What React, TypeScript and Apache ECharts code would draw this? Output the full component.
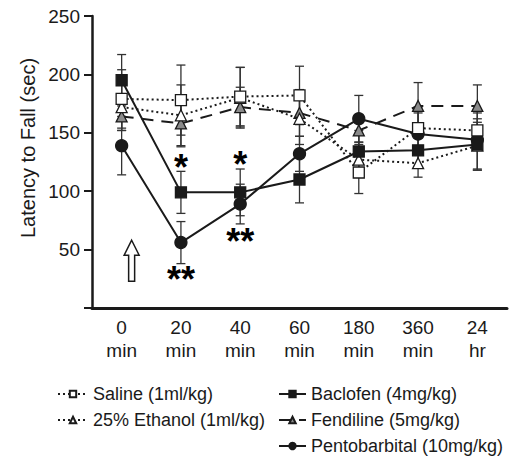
import React, { useEffect, useRef } from "react";
import * as echarts from "echarts";

const timeLabels = ["0\nmin", "20\nmin", "40\nmin", "60\nmin", "180\nmin", "360\nmin", "24\nhr"];

const salineMean = [179, 178, 181, 182, 116, 154, 152];
const salineErr = [25, 30, 25, 25, 18, 18, 15];
const ethanolMean = [172, 165, 180, 162, 127, 124, 139];
const ethanolErr = [20, 26, 26, 22, 15, 12, 20];
const fendilineMean = [164, 158, 172, 167, 152, 173, 173];
const fendilineErr = [12, 20, 17, 20, 12, 20, 18];
const baclofenMean = [195, 99, 99, 110, 134, 135, 140];
const baclofenErr = [22, 18, 20, 20, 18, 15, 22];
const pentoMean = [139, 56, 89, 132, 162, 149, 144];
const pentoErr = [25, 18, 17, 15, 20, 18, 26];

const sigX = [1, 2, 1, 2];
const sigY = [126, 129, 30, 63];
const sigText = ["*", "*", "**", "**"];

const arrowTop = 58;
const arrowBottom = 23;

const names = [
  "Saline (1ml/kg)",
  "25% Ethanol (1ml/kg)",
  "Fendiline (5mg/kg)",
  "Baclofen (4mg/kg)",
  "Pentobarbital (10mg/kg)",
];

const FONT = "'Liberation Sans', Arial, sans-serif";
const INK = "#1a1a1a";

function errSeries(mean: number[], err: number[], z: number) {
  return {
    type: "custom",
    silent: true,
    z,
    encode: { x: 0, y: [1, 2] },
    data: mean.map((m, i) => [i, m - err[i], m + err[i]]),
    renderItem: (params: any, api: any) => {
      const lo = api.coord([api.value(0), api.value(1)]);
      const hi = api.coord([api.value(0), api.value(2)]);
      const w = 4.5;
      const st = { stroke: "#333", lineWidth: 1.3 };
      return {
        type: "group",
        children: [
          { type: "line", shape: { x1: lo[0], y1: lo[1], x2: hi[0], y2: hi[1] }, style: st },
          { type: "line", shape: { x1: lo[0] - w, y1: lo[1], x2: lo[0] + w, y2: lo[1] }, style: st },
          { type: "line", shape: { x1: hi[0] - w, y1: hi[1], x2: hi[0] + w, y2: hi[1] }, style: st },
        ],
      };
    },
  };
}

export default function App() {
  const ref = useRef<HTMLDivElement>(null);
  useEffect(() => {
    if (!ref.current) return;
    const chart = echarts.init(ref.current, null, { renderer: "svg" });
    const lineBase = (name: string, data: number[], type: any, symbol: string, size: number, fill: string, z: number) => ({
      name,
      type: "line",
      data,
      z,
      symbol,
      symbolSize: size,
      showSymbol: true,
      lineStyle: { color: INK, width: 2, type },
      itemStyle: { color: fill, borderColor: INK, borderWidth: 1.3 },
    });
    const legendText = { color: INK, fontSize: 18, fontFamily: FONT };
    chart.setOption({
      animation: false,
      textStyle: { fontFamily: FONT },
      grid: { left: 92, right: 6, top: 16, bottom: 153, containLabel: false },
      xAxis: {
        type: "category",
        data: timeLabels,
        boundaryGap: true,
        axisLine: { lineStyle: { color: INK, width: 3 } },
        axisTick: { show: false },
        axisLabel: { color: INK, fontSize: 19, lineHeight: 23, margin: 8, fontFamily: FONT, interval: 0 },
      },
      yAxis: {
        type: "value",
        min: 0,
        max: 250,
        interval: 50,
        splitLine: { show: false },
        axisLine: { show: true, lineStyle: { color: INK, width: 2.5 } },
        axisTick: { show: true, length: 8, lineStyle: { color: INK, width: 2 } },
        axisLabel: {
          color: INK,
          fontSize: 19,
          margin: 12,
          fontFamily: FONT,
          formatter: (v: number) => (v === 0 ? "" : String(v)),
        },
      },
      legend: [
        {
          data: [names[0], names[1]],
          orient: "vertical",
          left: 52,
          top: 380,
          itemWidth: 30,
          itemHeight: 8,
          itemGap: 8,
          textStyle: legendText,
        },
        {
          data: [names[3], names[2], names[4]],
          orient: "vertical",
          left: 273,
          top: 380,
          itemWidth: 27,
          itemHeight: 8,
          itemGap: 8,
          textStyle: legendText,
        },
      ],
      series: [
        errSeries(salineMean, salineErr, 1),
        errSeries(ethanolMean, ethanolErr, 1),
        errSeries(fendilineMean, fendilineErr, 1),
        errSeries(baclofenMean, baclofenErr, 1),
        errSeries(pentoMean, pentoErr, 1),
        lineBase(names[4], pentoMean, "solid", "circle", 12, INK, 3),
        lineBase(names[2], fendilineMean, [12, 8], "triangle", 11, "#8a8a8a", 4),
        lineBase(names[1], ethanolMean, [2, 3], "triangle", 11, "#fff", 5),
        lineBase(names[0], salineMean, [2, 3], "rect", 11, "#fff", 6),
        lineBase(names[3], baclofenMean, "solid", "rect", 11, INK, 7),
      ],
    });
    const px = (x: number, y: number) => chart.convertToPixel({ gridIndex: 0 } as any, [x, y]) as number[];
    const top = px(0, arrowTop);
    const bot = px(0, arrowBottom);
    const cx = top[0] + 10;
    const headH = 15;
    const stars = sigX.map((x, i) => {
      const p = px(x, sigY[i]);
      return {
        type: "text",
        x: p[0],
        y: p[1] + 7,
        z: 20,
        style: {
          text: sigText[i],
          fontSize: 36,
          fontWeight: "bold",
          fontFamily: FONT,
          fill: "#000",
          align: "center",
          verticalAlign: "middle",
        },
      };
    });
    chart.setOption({
      graphic: [
        {
          type: "polygon",
          shape: {
            points: [
              [cx, top[1]],
              [cx + 7.5, top[1] + headH],
              [cx + 3, top[1] + headH],
              [cx + 3, bot[1]],
              [cx - 3, bot[1]],
              [cx - 3, top[1] + headH],
              [cx - 7.5, top[1] + headH],
            ],
          },
          style: { fill: "#fff", stroke: INK, lineWidth: 1.5 },
        },
        ...stars,
        {
          type: "text",
          x: 28,
          y: 148,
          rotation: Math.PI / 2,
          style: {
            text: "Latency to Fall (sec)",
            fontSize: 20,
            fontFamily: FONT,
            fill: INK,
            align: "center",
            verticalAlign: "middle",
          },
        },
      ],
    });
    return () => chart.dispose();
  }, []);
  return <div ref={ref} style={{ width: 513, height: 461, position: "absolute", left: 0, top: 0 }} />;
}
